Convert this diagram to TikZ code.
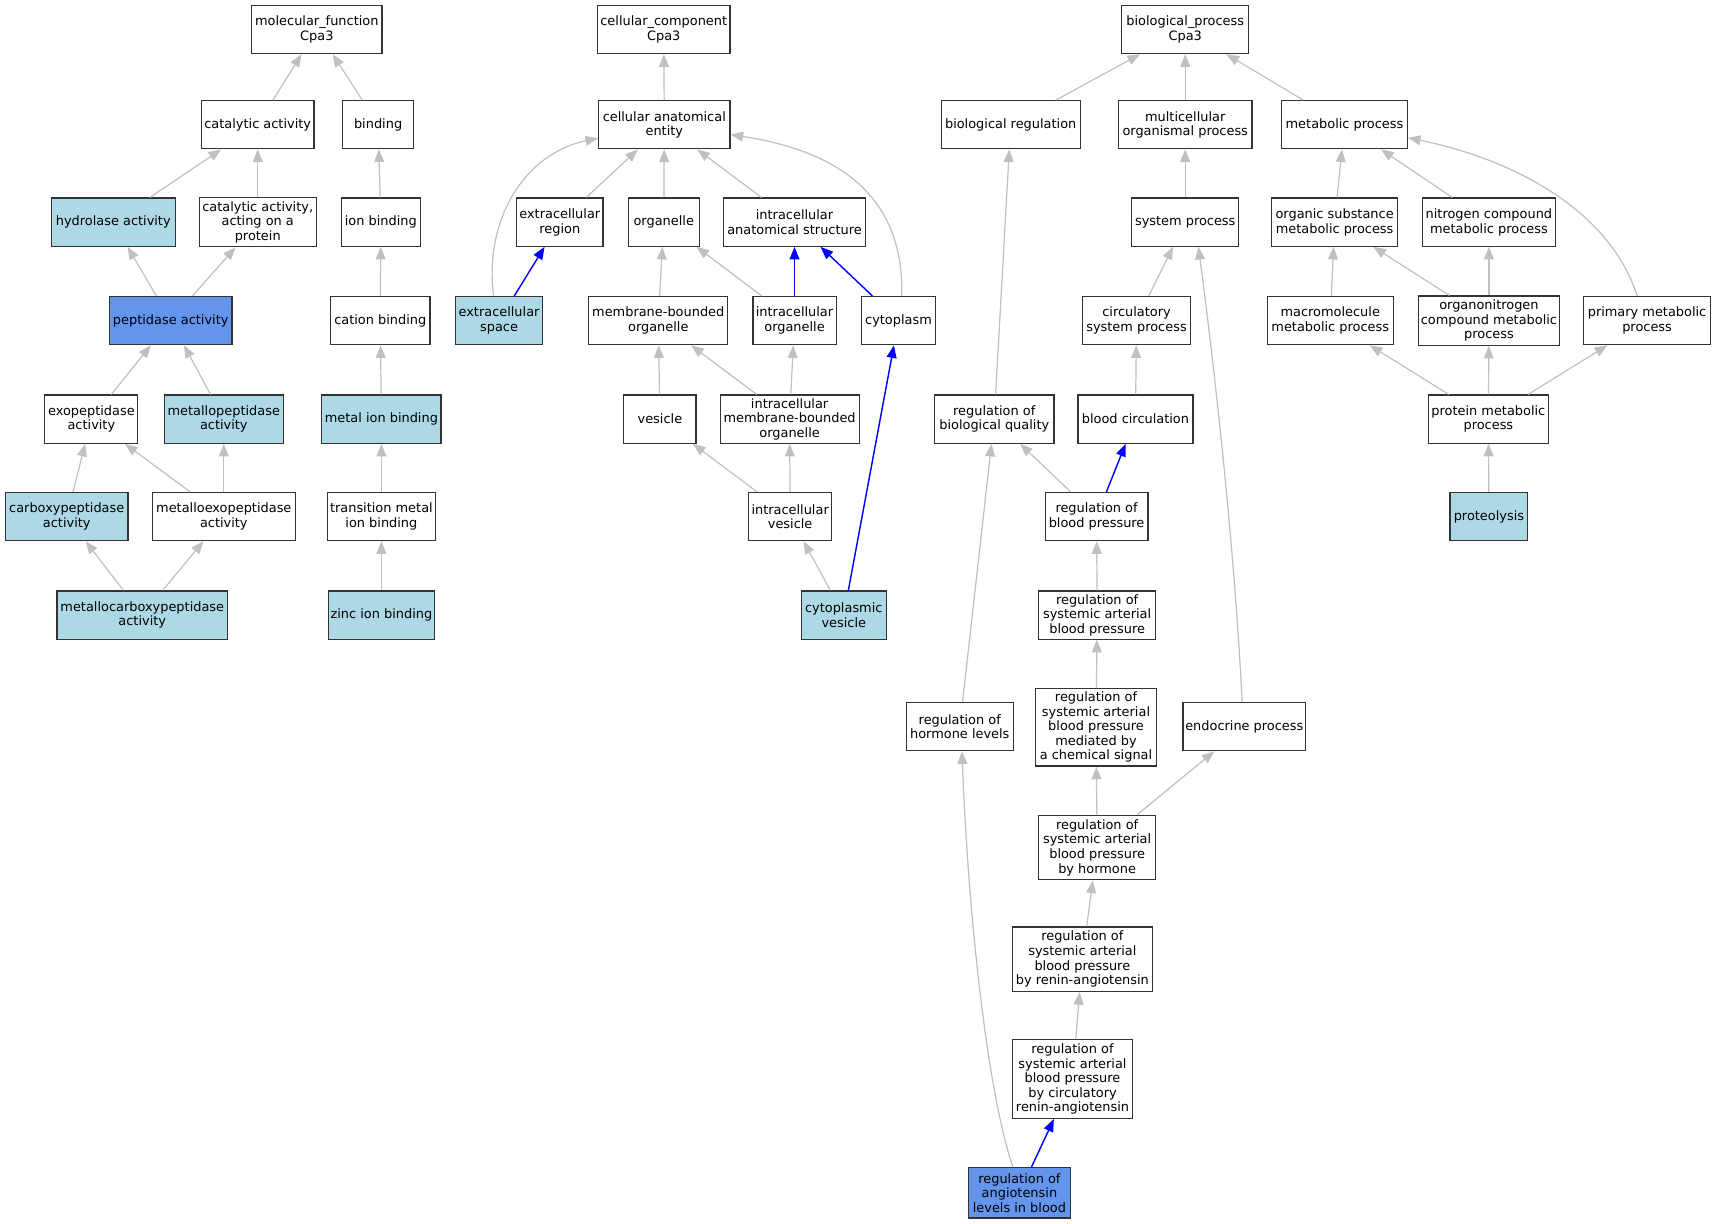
\documentclass[tikz,border=0pt]{standalone}
\usepackage{fontspec}
\setmainfont{DejaVu Sans}
\usetikzlibrary{arrows.meta}
\definecolor{lblue}{HTML}{ADD8E6}
\definecolor{cblue}{HTML}{6495ED}
\definecolor{egray}{HTML}{C0C0C0}
\definecolor{bord}{HTML}{333333}
\newcommand{\nfont}{\fontsize{11.8}{13.3}\selectfont}
\tikzset{
  box/.style={draw=bord, line width=1.1pt, fill=white, inner sep=0pt, align=center, font=\nfont, text=black, minimum height=44pt},
  lb/.style={box, fill=lblue},
  cb/.style={box, fill=cblue},
  bw/.style={minimum width=#1},
  bh/.style={minimum height=#1},
  gedge/.style={draw=egray, line width=1.1pt, -{Triangle[length=11.5pt,width=9pt]}},
  bedge/.style={draw=blue, line width=1.3pt, -{Triangle[length=11.5pt,width=9pt]}}
}
\begin{document}
\begin{tikzpicture}[x=1pt,y=-1pt]
\fill[white] (0,0) rectangle (1568,1118);
\useasboundingbox (0,0) rectangle (1568,1118);
% ---------- molecular function ----------
\node[box,bw=119pt] (mf) at (289.5,27) {molecular\_function\\Cpa3};
\node[box,bw=103pt] (ca) at (235.5,114) {catalytic activity};
\node[box,bw=65pt] (bind) at (345.5,114) {binding};
\node[lb,bw=113pt] (hyd) at (103.5,203) {hydrolase activity};
\node[box,bw=107pt,bh=45pt] (caop) at (235.5,203) {catalytic activity,\\acting on a\\protein};
\node[box,bw=72pt] (ionb) at (348,203) {ion binding};
\node[cb,bw=112pt] (pep) at (156,293) {peptidase activity};
\node[box,bw=91pt] (catb) at (347.5,293) {cation binding};
\node[box,bw=85pt] (exo) at (83.5,383) {exopeptidase\\activity};
\node[lb,bw=109pt] (metp) at (204.5,383) {metallopeptidase\\activity};
\node[lb,bw=109pt] (metion) at (348.5,383) {metal ion binding};
\node[lb,bw=112pt] (carb) at (61,472) {carboxypeptidase\\activity};
\node[box,bw=131pt] (metexo) at (204.5,472) {metalloexopeptidase\\activity};
\node[box,bw=99pt] (trans) at (348.5,472) {transition metal\\ion binding};
\node[lb,bw=156pt] (metcarb) at (130,562) {metallocarboxypeptidase\\activity};
\node[lb,bw=97pt] (zinc) at (348.5,562) {zinc ion binding};
% ---------- cellular component ----------
\node[box,bw=121pt] (cc) at (606.5,27) {cellular\_component\\Cpa3};
\node[box,bw=120pt] (cae) at (607,114) {cellular anatomical\\entity};
\node[box,bw=79pt] (er) at (511.5,203) {extracellular\\region};
\node[box,bw=65pt] (org) at (606.5,203) {organelle};
\node[box,bw=130pt] (ias) at (726,203) {intracellular\\anatomical structure};
\node[lb,bw=80pt] (es) at (456,293) {extracellular\\space};
\node[box,bw=127pt] (mbo) at (601.5,293) {membrane-bounded\\organelle};
\node[box,bw=76pt] (io) at (726,293) {intracellular\\organelle};
\node[box,bw=68pt] (cyt) at (821,293) {cytoplasm};
\node[box,bw=66pt] (ves) at (603,383) {vesicle};
\node[box,bw=127pt] (imbo) at (721.5,383) {intracellular\\membrane-bounded\\organelle};
\node[box,bw=76pt] (iv) at (722,472) {intracellular\\vesicle};
\node[lb,bw=78pt] (cv) at (771,562) {cytoplasmic\\vesicle};
% ---------- biological process ----------
\node[box,bw=116pt] (bp) at (1083,27) {biological\_process\\Cpa3};
\node[box,bw=127pt] (br) at (923.5,114) {biological regulation};
\node[box,bw=122pt] (mop) at (1083,114) {multicellular\\organismal process};
\node[box,bw=115pt] (mp) at (1228.5,114) {metabolic process};
\node[box,bw=98pt] (sp) at (1083,203) {system process};
\node[box,bw=115pt] (osmp) at (1219.5,203) {organic substance\\metabolic process};
\node[box,bw=121pt] (ncmp) at (1360.5,203) {nitrogen compound\\metabolic process};
\node[box,bw=99pt] (csp) at (1038.5,293) {circulatory\\system process};
\node[box,bw=115pt] (mmp) at (1215.5,293) {macromolecule\\metabolic process};
\node[box,bw=129pt,bh=45pt] (oncmp) at (1360.5,293) {organonitrogen\\compound metabolic\\process};
\node[box,bw=116pt] (pmp) at (1505,293) {primary metabolic\\process};
\node[box,bw=109pt] (rbq) at (908.5,383) {regulation of\\biological quality};
\node[box,bw=105pt] (bc) at (1037.5,383) {blood circulation};
\node[box,bw=110pt] (prmp) at (1360,383) {protein metabolic\\process};
\node[box,bw=94pt] (rbp) at (1002,472) {regulation of\\blood pressure};
\node[lb,bw=71pt] (prot) at (1360.5,472) {proteolysis};
\node[box,bw=107pt] (rsabp) at (1002.5,562) {regulation of\\systemic arterial\\blood pressure};
\node[box,bw=98pt] (rhl) at (877,664) {regulation of\\hormone levels};
\node[box,bw=111pt,bh=71pt] (rsabpcs) at (1001.5,664.5) {regulation of\\systemic arterial\\blood pressure\\mediated by\\a chemical signal};
\node[box,bw=112pt] (endo) at (1137,664) {endocrine process};
\node[box,bw=107pt,bh=59pt] (rsabph) at (1002.5,774.5) {regulation of\\systemic arterial\\blood pressure\\by hormone};
\node[box,bw=128pt,bh=59pt] (rsabpra) at (989,876.5) {regulation of\\systemic arterial\\blood pressure\\by renin-angiotensin};
\node[box,bw=110pt,bh=72pt] (rsabpcra) at (980,986) {regulation of\\systemic arterial\\blood pressure\\by circulatory\\renin-angiotensin};
\node[cb,bw=93pt,bh=46pt] (ral) at (931.5,1090) {regulation of\\angiotensin\\levels in blood};
% ---------- edges: molecular function ----------
\draw[gedge] (ca) -- (mf);
\draw[gedge] (bind) -- (mf);
\draw[gedge] (hyd) -- (ca);
\draw[gedge] (caop) -- (ca);
\draw[gedge] (ionb) -- (bind);
\draw[gedge] (pep) -- (hyd);
\draw[gedge] (pep) -- (caop);
\draw[gedge] (catb) -- (ionb);
\draw[gedge] (exo) -- (pep);
\draw[gedge] (metp) -- (pep);
\draw[gedge] (metion) -- (catb);
\draw[gedge] (carb) -- (exo);
\draw[gedge] (metexo) -- (exo);
\draw[gedge] (metexo) -- (metp);
\draw[gedge] (trans) -- (metion);
\draw[gedge] (metcarb) -- (carb);
\draw[gedge] (metcarb) -- (metexo);
\draw[gedge] (zinc) -- (trans);
% ---------- edges: cellular component ----------
\draw[gedge] (cae) -- (cc);
\draw[gedge] (er) -- (cae);
\draw[gedge] (org) -- (cae);
\draw[gedge] (ias) -- (cae);
\draw[gedge] ([xshift=-5pt]es.north) .. controls (442,200) and (480,140) .. (cae);
\draw[bedge] (es) -- (er);
\draw[gedge] (mbo) -- (org);
\draw[gedge] (io) -- (org);
\draw[bedge] (io) -- (ias);
\draw[bedge] (cyt) -- (ias);
\draw[gedge] ([xshift=3pt]cyt.north) .. controls (826,190) and (780,140) .. (cae);
\draw[gedge] (ves) -- (mbo);
\draw[gedge] (imbo) -- (mbo);
\draw[gedge] (imbo) -- (io);
\draw[gedge] (iv) -- (ves);
\draw[gedge] (iv) -- (imbo);
\draw[gedge] (cv) -- (iv);
\draw[bedge] (cv) -- (cyt);
% ---------- edges: biological process ----------
\draw[gedge] (br) -- (bp);
\draw[gedge] (mop) -- (bp);
\draw[gedge] (mp) -- (bp);
\draw[gedge] (sp) -- (mop);
\draw[gedge] (osmp) -- (mp);
\draw[gedge] (ncmp) -- (mp);
\draw[gedge] ([xshift=-9pt]pmp.north) .. controls (1470,190) and (1380,145) .. (mp);
\draw[gedge] (csp) -- (sp);
\draw[gedge] (mmp) -- (osmp);
\draw[gedge] (oncmp) -- (osmp);
\draw[gedge] (oncmp) -- (ncmp);
\draw[gedge] (rbq) -- (br);
\draw[gedge] (bc) -- (csp);
\draw[gedge] (prmp) -- (mmp);
\draw[gedge] (prmp) -- (oncmp);
\draw[gedge] (prmp) -- (pmp);
\draw[gedge] (rbp) -- (rbq);
\draw[bedge] (rbp) -- (bc);
\draw[gedge] (prot) -- (prmp);
\draw[gedge] (rsabp) -- (rbp);
\draw[gedge] (rhl) -- (rbq);
\draw[gedge] (rsabpcs) -- (rsabp);
\draw[gedge] ([xshift=-2pt]endo.north) .. controls (1127,480) and (1105,300) .. ([xshift=12pt]sp.south);
\draw[gedge] (rsabph) -- (rsabpcs);
\draw[gedge] (rsabph) -- (endo);
\draw[gedge] (rsabpra) -- (rsabph);
\draw[gedge] (rsabpcra) -- (rsabpra);
\draw[bedge] (ral) -- (rsabpcra);
\draw[gedge] ([xshift=-6pt]ral.north) .. controls (900,990) and (884,820) .. ([xshift=2pt]rhl.south);
\end{tikzpicture}
\end{document}
